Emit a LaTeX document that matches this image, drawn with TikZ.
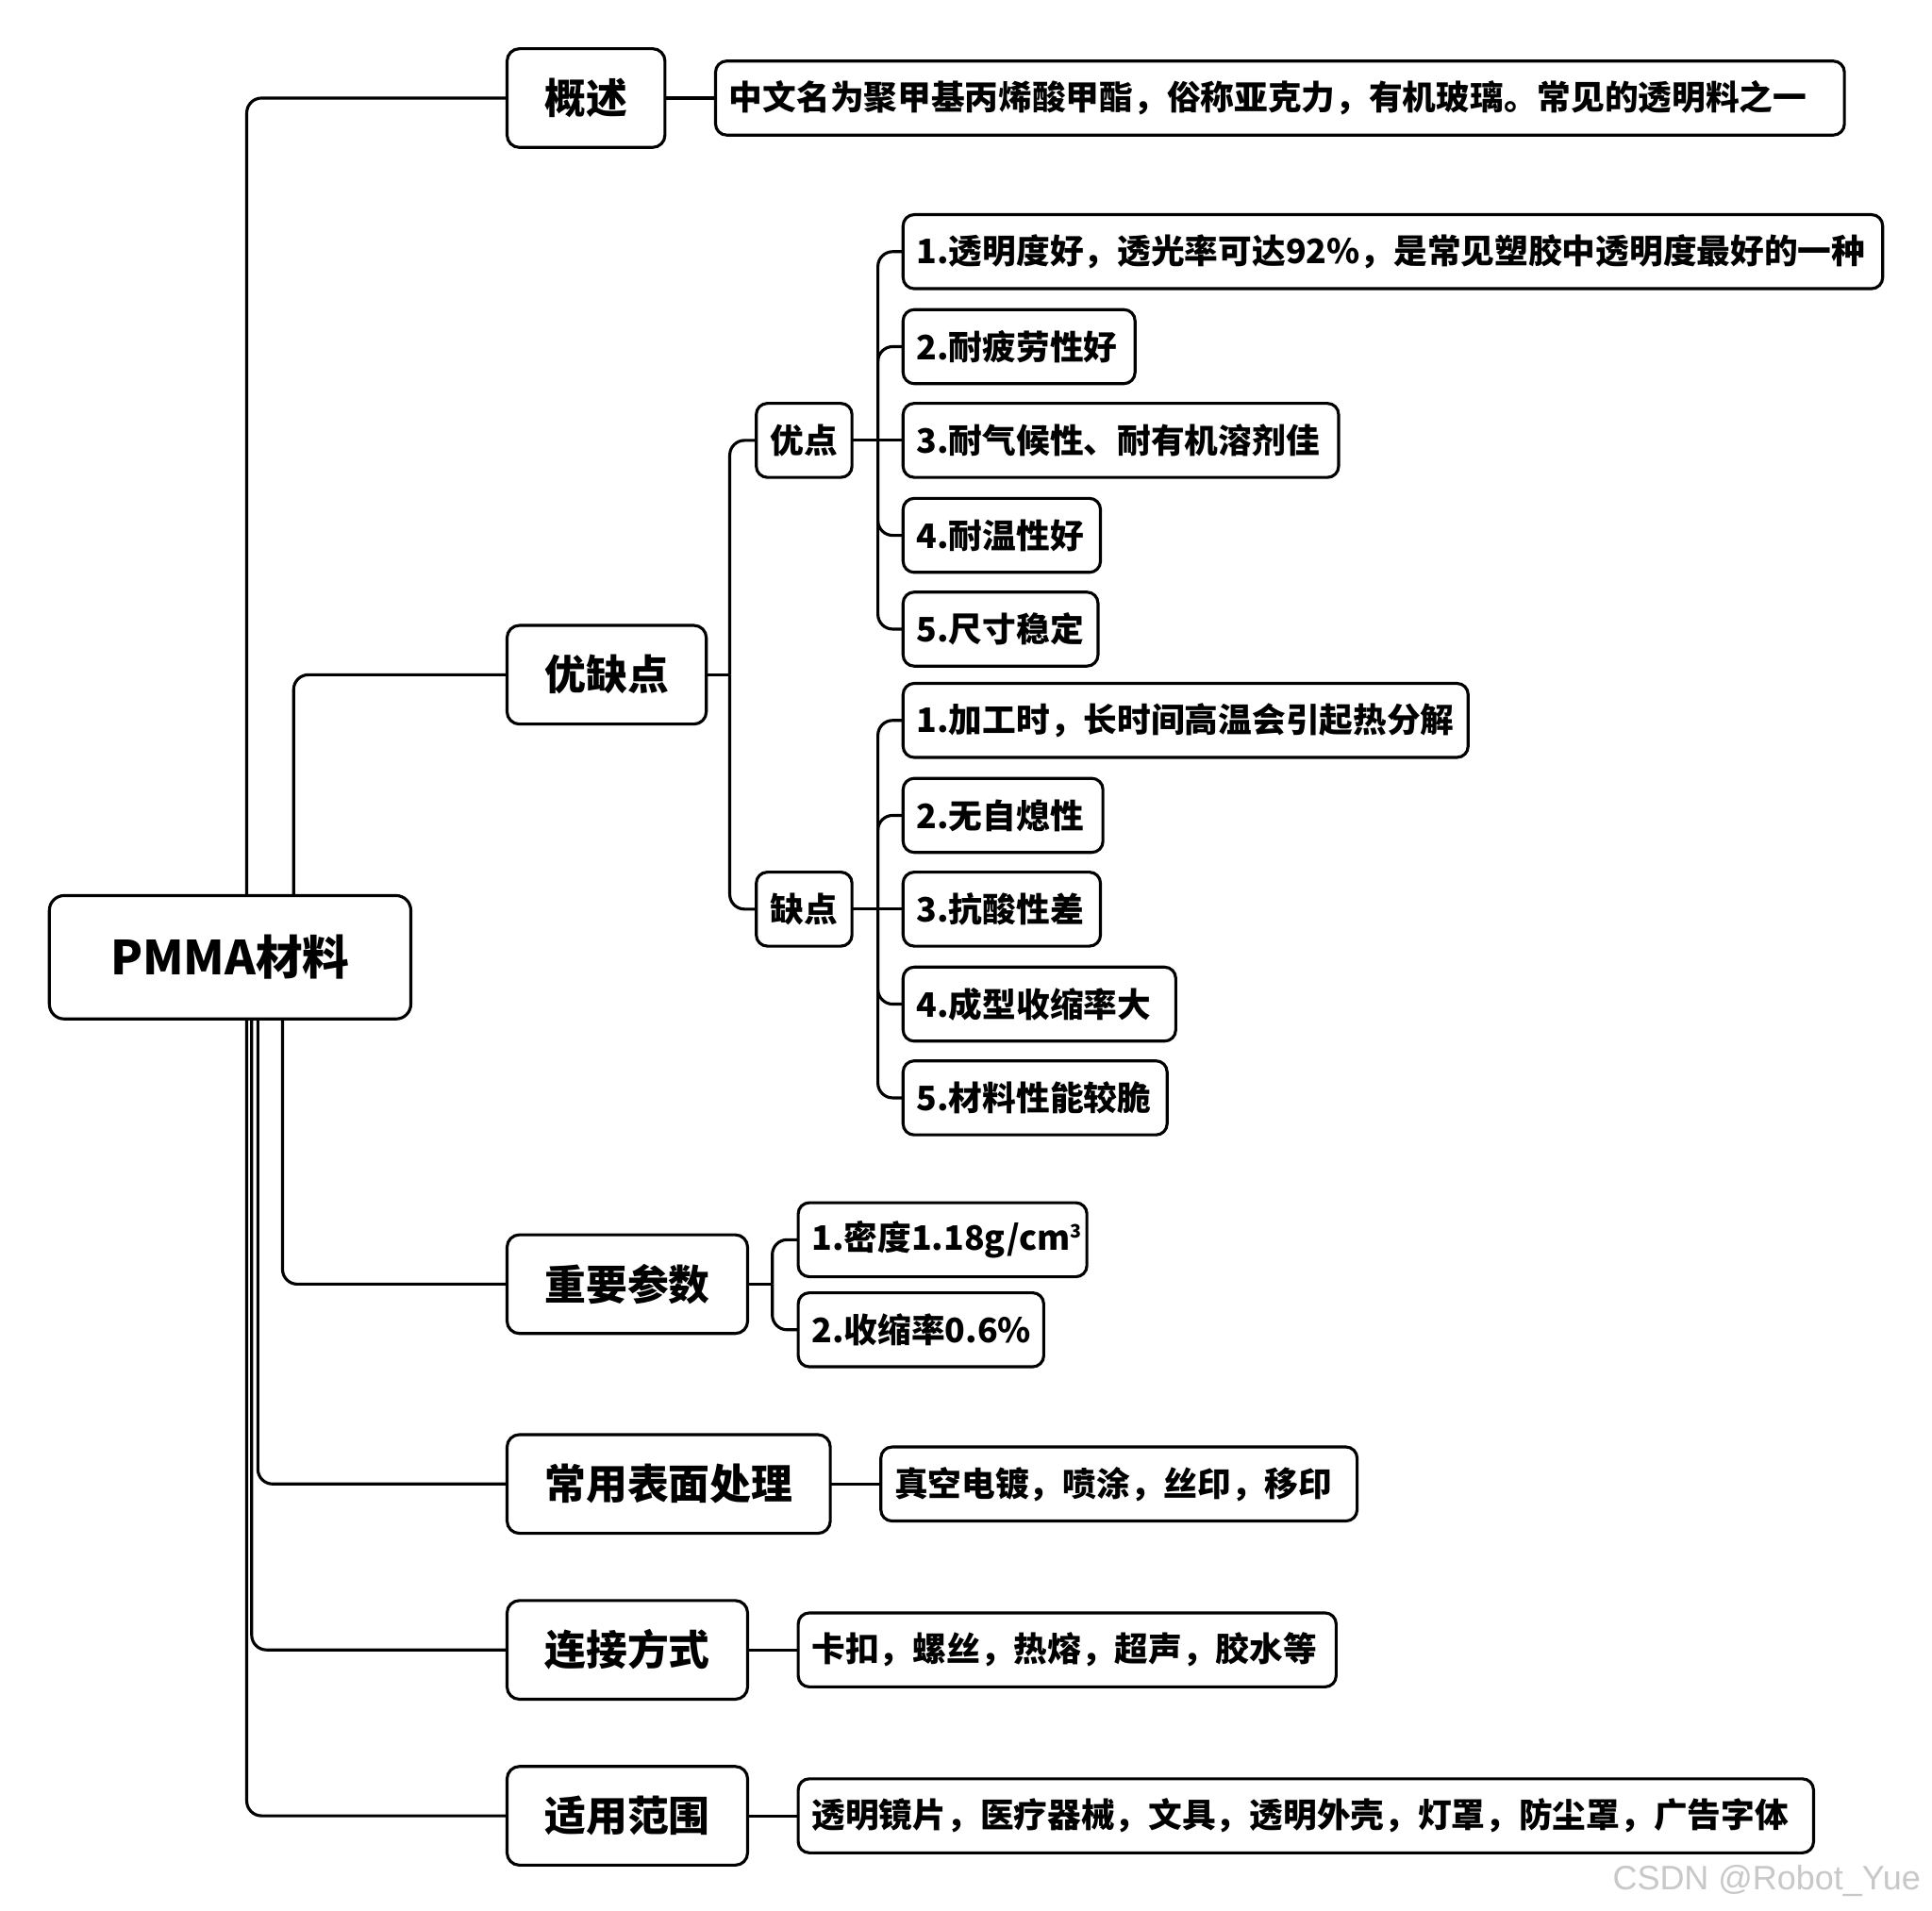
\documentclass[tikz,border=0pt]{standalone}
\usepackage{fontspec}
\setmainfont{Noto Sans CJK SC}
\newfontfamily\markfont{Liberation Sans}
\usepackage{tikz}

\tikzset{
  box/.style={draw, line width=2.4pt, rounded corners=10pt, inner ysep=0pt, outer sep=0pt},
  rootbox/.style={box, rounded corners=12pt, minimum width=293pt, minimum height=100pt, font=\bfseries\fontsize{38}{40}\selectfont},
  topic/.style={box, anchor=west, minimum height=80pt, inner xsep=30.5pt, font=\bfseries\fontsize{33.5}{36}\selectfont},
  sub/.style={box, anchor=west, minimum height=60pt, inner xsep=11.5pt, rounded corners=9pt, font=\bfseries\fontsize{27.3}{30}\selectfont},
  leaf/.style={sub, inner xsep=11pt, text width=#1, align=left},
  link/.style={line width=2.4pt, rounded corners=12pt},
}
\definecolor{markgray}{RGB}{200,200,200}
\newcommand{\cubic}{\raisebox{10pt}{\fontsize{15}{15}\selectfont 3}}

\begin{document}
\begin{tikzpicture}[x=1pt,y=-1pt]
\fill[white] (0,0) rectangle (1566,1549);
\useasboundingbox (0,0) rectangle (1566,1549);

\node[rootbox] (root) at (186.5,776) {PMMA材料};

\node[topic] (gs) at (411,79.5) {概述};
\node[topic] (ykd) at (411,547) {优缺点};
\node[topic] (zy) at (411,1041) {重要参数};
\node[topic] (bm) at (411,1203) {常用表面处理};
\node[topic] (lj) at (411,1337.5) {连接方式};
\node[topic] (fw) at (411,1472) {适用范围};

\node[leaf=893pt] (s1) at (580,79.5) {中文名为聚甲基丙烯酸甲酯，俗称亚克力，有机玻璃。常见的透明料之一};

\node[sub] (yd) at (613,357) {优点};
\node[sub] (qd) at (613,737) {缺点};

\node[leaf=772pt] (a1) at (732,204) {1.透明度好，透光率可达92\%，是常见塑胶中透明度最好的一种};
\node[leaf=166pt] (a2) at (732,281) {2.耐疲劳性好};
\node[leaf=331pt] (a3) at (732,357) {3.耐气候性、耐有机溶剂佳};
\node[leaf=138pt] (a4) at (732,434) {4.耐温性好};
\node[leaf=136pt] (a5) at (732,510) {5.尺寸稳定};

\node[leaf=436pt] (d1) at (732,584) {1.加工时，长时间高温会引起热分解};
\node[leaf=140pt] (d2) at (732,661) {2.无自熄性};
\node[leaf=138pt] (d3) at (732,737) {3.抗酸性差};
\node[leaf=199pt] (d4) at (732,814) {4.成型收缩率大};
\node[leaf=192pt] (d5) at (732,890) {5.材料性能较脆};

\node[leaf=212pt] (p1) at (647,1005) {1.密度1.18g/cm\cubic};
\node[leaf=177pt] (p2) at (647,1078) {2.收缩率0.6\%};

\node[leaf=364pt] (t1) at (714,1203) {真空电镀，喷涂，丝印，移印};
\node[leaf=414pt] (c1) at (647,1337.5) {卡扣，螺丝，热熔，超声，胶水等};
\node[leaf=801pt] (r1) at (647,1472) {透明镜片，医疗器械，文具，透明外壳，灯罩，防尘罩，广告字体};

% root branches
\draw[link] ([xshift=160pt]root.north west) |- (gs.west);
\draw[link] ([xshift=198pt]root.north west) |- (ykd.west);
\draw[link] ([xshift=189pt]root.south west) |- (zy.west);
\draw[link] ([xshift=169pt]root.south west) |- (bm.west);
\draw[link] ([xshift=164pt]root.south west) |- (lj.west);
\draw[link] ([xshift=160pt]root.south west) |- (fw.west);

\draw[link] (gs.east) -- (s1.west);
\draw[link] (bm.east) -- (t1.west);
\draw[link] (lj.east) -- (c1.west);
\draw[link] (fw.east) -- (r1.west);

% pros and cons
\draw[link] (ykd.east) -- ++(19,0) coordinate (ykdj);
\draw[link] (ykdj) |- (yd.west);
\draw[link] (ykdj) |- (qd.west);

\draw[link] (yd.east) -- (a3.west);
\coordinate (ydj) at ([xshift=21pt]yd.east);
\draw[link] (ydj) |- (a1.west);
\draw[link] (ydj) |- (a2.west);
\draw[link] (ydj) |- (a4.west);
\draw[link] (ydj) |- (a5.west);

\draw[link] (qd.east) -- (d3.west);
\coordinate (qdj) at ([xshift=21pt]qd.east);
\draw[link] (qdj) |- (d1.west);
\draw[link] (qdj) |- (d2.west);
\draw[link] (qdj) |- (d4.west);
\draw[link] (qdj) |- (d5.west);

% parameters
\draw[link] (zy.east) -- ++(20,0) coordinate (zyj);
\draw[link] (zyj) |- (p1.west);
\draw[link] (zyj) |- (p2.west);

\node[anchor=base west, inner sep=0pt, text=markgray, font=\markfont\fontsize{27.5}{30}\selectfont] (mark) at (1307,1532) {CSDN @Robot\_Yue};
\end{tikzpicture}
\end{document}
